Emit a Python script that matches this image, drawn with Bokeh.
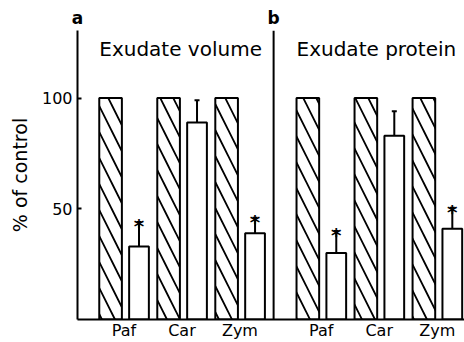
from bokeh.plotting import figure
from bokeh.models import (ColumnDataSource, FixedTicker, Whisker, TeeHead, Span, Label,
                          LinearAxis)
from bokeh.core.properties import value
from bokeh.embed import file_html
from bokeh.resources import INLINE

# ---- data ----
treatments = ["Paf", "Car", "Zym"]
panel_letters = ["a", "b"]
panel_titles = ["Exudate  volume", "Exudate protein"]
control = [100, 100, 100]
volume = [33, 89, 39]
volume_err = [11, 10, 7]
protein = [30, 83, 41]
protein_err = [10, 11, 9.5]
significant = [True, False, True]
y_ticks = [50, 100]

# ---- layout constants ----
panel_a_x = [0, 1, 2]
panel_b_x = [3.4, 4.4, 5.4]
hatch_off, open_off = -0.23, 0.26
hatch_w, open_w = 0.39, 0.34
divider_x = 2.58
X0, X1 = -0.80, 5.87
Y0, Y1 = 0, 130.5
FONT = "DejaVu Sans"

group_x = panel_a_x + panel_b_x
treated = volume + protein
treated_err = volume_err + protein_err
sig = significant + significant

ctrl_src = ColumnDataSource(dict(x=[g + hatch_off for g in group_x], top=control + control))
trt_src = ColumnDataSource(dict(
    x=[g + open_off for g in group_x],
    top=treated,
    upper=[v + e for v, e in zip(treated, treated_err)],
))
star_src = ColumnDataSource(dict(
    x=[g + open_off for g, s in zip(group_x, sig) if s],
    y=[v + e for v, e, s in zip(treated, treated_err, sig) if s],
    t=["*" for s in sig if s],
))

p = figure(width=464, height=342, output_backend="svg", toolbar_location=None,
           x_range=(X0, X1), y_range=(Y0, Y1),
           min_border_left=77, min_border_right=0, min_border_top=30, min_border_bottom=20)
p.outline_line_color = None
p.grid.visible = False
p.background_fill_color = "white"
p.border_fill_color = "white"

p.vbar(x="x", top="top", bottom=0, width=hatch_w, source=ctrl_src,
       fill_color="white", line_color="black", line_width=2,
       hatch_pattern="\\", hatch_color="black", hatch_weight=1.8, hatch_scale=26)
p.vbar(x="x", top="top", bottom=0, width=open_w, source=trt_src,
       fill_color="white", line_color="black", line_width=2)

w = Whisker(base="x", lower="top", upper="upper", source=trt_src, dimension="height",
            line_color="black", line_width=2,
            upper_head=TeeHead(size=5, line_width=2, line_color="black"), lower_head=None)
p.add_layout(w)

p.text(x="x", y="y", text="t", source=star_src, text_font=value(FONT),
       text_font_style="bold", text_font_size="20px", text_align="center",
       text_baseline="alphabetic", y_offset=4, text_color="black")

# panel b's own vertical axis line
p.add_layout(Span(location=divider_x, dimension="height", line_color="black", line_width=2))

# panel titles, left-aligned with the first hatched bar of each panel
for gx, title in zip([panel_a_x[0], panel_b_x[0]], panel_titles):
    p.add_layout(Label(x=gx + hatch_off - hatch_w / 2, y=122, text=title,
                       text_font=FONT, text_font_size="20px", text_baseline="middle",
                       text_align="left", text_color="black"))

# y axis
p.yaxis.ticker = FixedTicker(ticks=y_ticks)
p.yaxis.axis_label = "% of control"
p.yaxis.axis_label_text_font = FONT
p.yaxis.axis_label_text_font_size = "19px"
p.yaxis.axis_label_text_font_style = "normal"
p.yaxis.axis_label_text_color = "black"
p.yaxis.axis_label_standoff = 8
p.yaxis.major_label_text_font = FONT
p.yaxis.major_label_text_font_size = "16px"
p.yaxis.major_label_text_color = "black"
p.yaxis.major_label_standoff = 5
p.yaxis.major_tick_in = 4
p.yaxis.major_tick_out = 0
p.yaxis.major_tick_line_width = 2
p.yaxis.minor_tick_line_color = None
p.yaxis.minor_tick_in = 0
p.yaxis.minor_tick_out = 0
p.yaxis.axis_line_width = 2

# x axis with treatment names
p.xaxis.ticker = FixedTicker(ticks=group_x)
p.xaxis.major_label_overrides = {float(g) if g != int(g) else int(g): t
                                 for g, t in zip(group_x, treatments + treatments)}
p.xaxis.major_label_text_font = FONT
p.xaxis.major_label_text_font_size = "16px"
p.xaxis.major_label_text_color = "black"
p.xaxis.major_label_standoff = 1
p.xaxis.major_tick_line_color = None
p.xaxis.major_tick_in = 0
p.xaxis.major_tick_out = 0
p.xaxis.minor_tick_line_color = None
p.xaxis.minor_tick_in = 0
p.xaxis.minor_tick_out = 0
p.xaxis.axis_line_width = 2

# panel letters on an axis above, at the two panels' vertical axes
letter_x = [X0 + 0.001, divider_x]
top_axis = LinearAxis(ticker=FixedTicker(ticks=letter_x),
                      major_label_overrides={x: t for x, t in zip(letter_x, panel_letters)},
                      axis_line_color=None, major_tick_line_color=None,
                      minor_tick_line_color=None, major_tick_in=0, major_tick_out=0,
                      minor_tick_in=0, minor_tick_out=0, major_label_standoff=3,
                      major_label_text_font=FONT, major_label_text_font_size="17px",
                      major_label_text_font_style="bold", major_label_text_color="black")
p.add_layout(top_axis, "above")

open("out.html", "w").write(file_html(p, INLINE))
